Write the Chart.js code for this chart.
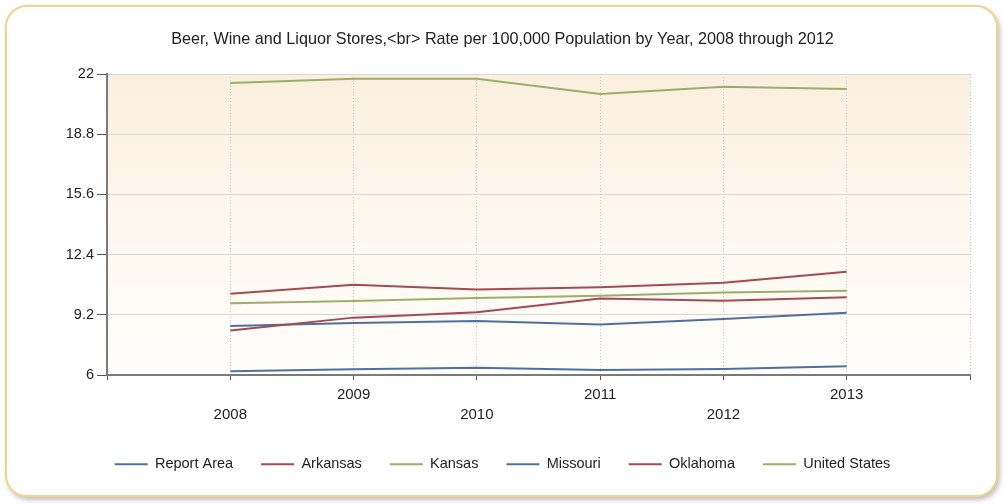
<!DOCTYPE html>
<html>
<head>
<meta charset="utf-8">
<title>Beer, Wine and Liquor Stores</title>
<script src="https://cdn.jsdelivr.net/npm/chart.js@4.4.1/dist/chart.umd.min.js"></script>
<style>
  html, body { margin: 0; padding: 0; background: #fff; }
  #frame {
    position: absolute; left: 5px; top: 5px; width: 989px; height: 488px;
    border: 2px solid #f1d38c; border-radius: 22px;
    box-shadow: 2px 3px 5px rgba(0, 0, 0, 0.25); background: #fff;
  }
  #wrap { position: absolute; left: 0; top: 0; width: 1005px; height: 504px; }
</style>
</head>
<body>
<div id="frame"></div>
<div id="wrap"><canvas id="rateChart" width="1005" height="504"></canvas></div>
<script>
// Chart data
const years = [2008, 2009, 2010, 2011, 2012, 2013];
const xTicks = [2007, 2008, 2009, 2010, 2011, 2012, 2013, 2014];
const yTicks = [6, 9.2, 12.4, 15.6, 18.8, 22];

const reportArea = [6.2, 6.3, 6.39, 6.27, 6.32, 6.46];
const arkansas = [8.37, 9.05, 9.33, 10.07, 9.95, 10.13];
const kansas = [21.52, 21.75, 21.75, 20.94, 21.33, 21.2];
const missouri = [8.6, 8.76, 8.87, 8.69, 8.98, 9.31];
const oklahoma = [10.32, 10.8, 10.55, 10.66, 10.91, 11.49];
const unitedStates = [9.81, 9.93, 10.09, 10.21, 10.38, 10.48];

const BLUE = "#50709c";
const RED = "#a44a52";
const GREEN = "#9bae6a";
const FONT = "'Liberation Sans', Arial, sans-serif";

const toPoints = (values) => values.map((v, i) => ({ x: years[i], y: v }));

const makeSeries = (label, values, color) => ({
  label,
  data: toPoints(values),
  borderColor: color,
  backgroundColor: color,
  borderWidth: 2,
  pointRadius: 0,
  pointHoverRadius: 0,
  tension: 0,
  fill: false,
});

// Soft tan gradient behind the plot area
const plotBackground = {
  id: "plotBackground",
  beforeDraw: (chart) => {
    const { ctx, chartArea: a } = chart;
    if (!a) return;
    const g = ctx.createLinearGradient(0, a.top, 0, a.bottom);
    g.addColorStop(0, "#fbf0df");
    g.addColorStop(1, "#fffefc");
    ctx.save();
    ctx.fillStyle = g;
    ctx.fillRect(a.left, a.top, a.right - a.left, a.bottom - a.top);
    ctx.restore();
  },
};

const ctx = document.getElementById("rateChart").getContext("2d");
new Chart(ctx, {
  type: "line",
  data: {
    datasets: [
      makeSeries("Report Area", reportArea, BLUE),
      makeSeries("Arkansas", arkansas, RED),
      makeSeries("Kansas", kansas, GREEN),
      makeSeries("Missouri", missouri, BLUE),
      makeSeries("Oklahoma", oklahoma, RED),
      makeSeries("United States", unitedStates, GREEN),
    ],
  },
  options: {
    responsive: false,
    animation: false,
    layout: { padding: { top: 30, right: 0, bottom: 22.5, left: 0 } },
    plugins: {
      title: {
        display: true,
        text: "Beer, Wine and Liquor Stores,<br> Rate per 100,000 Population by Year, 2008 through 2012",
        color: "#222",
        font: { family: FONT, size: 16.2, weight: "normal", lineHeight: 1.2 },
        padding: { top: 0, bottom: 24.6 },
      },
      legend: {
        position: "bottom",
        labels: {
          color: "#222",
          font: { family: FONT, size: 14.5 },
          usePointStyle: true,
          pointStyle: "line",
          pointStyleWidth: 33,
          padding: 28,
          boxHeight: 14,
        },
      },
      tooltip: { enabled: false },
    },
    scales: {
      x: {
        type: "linear",
        min: 2007,
        max: 2014,
        afterBuildTicks: (s) => { s.ticks = xTicks.map((v) => ({ value: v })); },
        afterFit: (s) => { s.height = 54; },
        ticks: {
          color: "#222",
          autoSkip: false,
          maxRotation: 0,
          padding: 5,
          font: { family: FONT, size: 15, lineHeight: "20px" },
          callback: (v) => {
            if (v === 2007 || v === 2014) return "";
            return v % 2 === 0 ? ["", String(v)] : String(v);
          },
        },
        grid: {
          color: "#c9c9c9",
          tickColor: "#555",
          tickLength: 5,
          tickBorderDash: [],
        },
        border: { color: "#7a7a7a", width: 2, dash: [1, 2] },
      },
      y: {
        min: 6,
        max: 22,
        afterBuildTicks: (s) => { s.ticks = yTicks.map((v) => ({ value: v })); },
        afterFit: (s) => { s.width = 107; },
        ticks: {
          color: "#222",
          padding: 3,
          font: { family: FONT, size: 14.5 },
          callback: (v) => String(+v.toFixed(1)),
        },
        grid: { color: "#d6d6d6", tickColor: "#555", tickLength: 10 },
        border: { color: "#7a7a7a", width: 2 },
      },
      // empty right-hand axis that only reserves the right margin
      yRight: {
        position: "right",
        min: 6,
        max: 22,
        afterFit: (s) => { s.width = 35; },
        ticks: { display: false },
        grid: { display: false },
        border: { display: false },
      },
    },
  },
  plugins: [plotBackground],
});
</script>
</body>
</html>
